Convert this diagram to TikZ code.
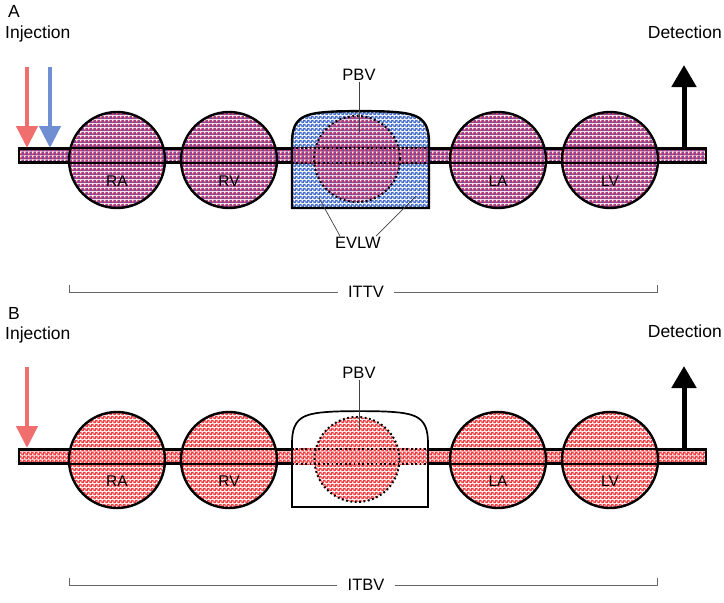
\documentclass[tikz,border=0pt]{standalone}
\usepackage{fontspec}
\setmainfont{Liberation Sans}
\usetikzlibrary{positioning,arrows.meta,patterns}
\definecolor{redbase}{RGB}{220,52,84}
\definecolor{redfill}{RGB}{238,62,66}
\definecolor{bluefill}{RGB}{72,112,202}
\definecolor{bluedot}{RGB}{80,85,200}
\definecolor{injred}{RGB}{240,110,110}
\definecolor{injblue}{RGB}{112,142,210}
% speckled textures
\pgfdeclarepatterninherentlycolored{mauvespeck}{\pgfpointorigin}{\pgfqpoint{4pt}{4pt}}{\pgfqpoint{4pt}{4pt}}{
  \pgfsetfillcolor{redbase}\pgfpathrectangle{\pgfpointorigin}{\pgfqpoint{4pt}{4pt}}\pgfusepath{fill}
  \pgfsetfillcolor{bluedot}\pgfpathrectangle{\pgfqpoint{2pt}{0pt}}{\pgfqpoint{2pt}{2pt}}
  \pgfpathrectangle{\pgfqpoint{2.8pt}{2.8pt}}{\pgfqpoint{1.1pt}{1.1pt}}\pgfusepath{fill}
  \pgfsetfillcolor{white}\pgfpathrectangle{\pgfqpoint{0pt}{2pt}}{\pgfqpoint{1.7pt}{1.7pt}}\pgfusepath{fill}}
\pgfdeclarepatterninherentlycolored{redspeck}{\pgfpointorigin}{\pgfqpoint{4pt}{4pt}}{\pgfqpoint{4pt}{4pt}}{
  \pgfsetfillcolor{redfill}\pgfpathrectangle{\pgfpointorigin}{\pgfqpoint{4pt}{4pt}}\pgfusepath{fill}
  \pgfsetfillcolor{white}\pgfpathrectangle{\pgfpointorigin}{\pgfqpoint{1.6pt}{1.6pt}}\pgfusepath{fill}
  \pgfpathrectangle{\pgfqpoint{2pt}{2pt}}{\pgfqpoint{1.6pt}{1.6pt}}\pgfusepath{fill}}
\pgfdeclarepatterninherentlycolored{bluespeck}{\pgfpointorigin}{\pgfqpoint{4pt}{4pt}}{\pgfqpoint{4pt}{4pt}}{
  \pgfsetfillcolor{bluefill}\pgfpathrectangle{\pgfpointorigin}{\pgfqpoint{4pt}{4pt}}\pgfusepath{fill}
  \pgfsetfillcolor{white}\pgfpathrectangle{\pgfpointorigin}{\pgfqpoint{1.6pt}{1.6pt}}\pgfusepath{fill}
  \pgfpathrectangle{\pgfqpoint{2pt}{2pt}}{\pgfqpoint{1.6pt}{1.6pt}}\pgfusepath{fill}}
\tikzset{
  cham/.style={circle, draw, line width=2.4pt, minimum size=96pt, inner sep=0pt, pattern=#1},
  tube/.style={rectangle, draw, line width=2.2pt, minimum width=687pt, minimum height=13pt, inner sep=0pt, pattern=#1},
  tubeline/.style={line width=2.2pt},
  dotline/.style={line width=2pt, dash pattern=on 1.8pt off 2.6pt},
  lbl/.style={font=\fontsize{15.5}{17}\selectfont, inner sep=1pt},
  head/.style={font=\fontsize{17.5}{19}\selectfont, inner sep=0pt},
  inj/.style={line width=4.5pt, draw=#1, -{Triangle[width=21pt,length=22pt]}},
  detect/.style={line width=5pt, -{Triangle[width=24pt,length=22pt]}},
  pointer/.style={line width=0.7pt, draw=black!75},
  brk/.style={line width=0.9pt, draw=black!60},
}
\begin{document}
\begin{tikzpicture}[x=1pt,y=-1pt]
\useasboundingbox (0,0) rectangle (724,603);
% ---------- panel A ----------
\node[head, anchor=west] (capA) at (8,11) {A};
\node[head, anchor=west] (injlblA) at (5,34) {Injection};
\node[head, anchor=east] (detlblA) at (722,32) {Detection};
\node[tube=mauvespeck] (tubeA) at (362.5,155.5) {};
\node[cham=mauvespeck] (raA) at (117,160) {};
\node[cham=mauvespeck] (rvA) at (229,160) {};
\node[cham=mauvespeck] (laA) at (498,160) {};
\node[cham=mauvespeck] (lvA) at (610,160) {};
\draw[tubeline] (tubeA.north west) -- (tubeA.north east);
\draw[tubeline] (tubeA.south west) -- (tubeA.south east);
% pulmonary box
\coordinate (boxAsw) at (292,208);
\coordinate (boxAse) at (429,208);
\path[pattern=bluespeck] (boxAsw) -- (292,143) .. controls (292,116) and (305,113) .. (335,111.5)
  .. controls (350,111) and (371,111) .. (386,111.5) .. controls (416,113) and (429,116) .. (429,143)
  -- (boxAse) -- cycle;
\node[circle, minimum size=86pt, inner sep=0pt, pattern=mauvespeck] (pbvA) at (357,159) {};
\path[pattern=mauvespeck] (tubeA.north -| boxAsw) rectangle (tubeA.south -| boxAse);
\draw[dotline] (tubeA.north -| boxAsw) -- (tubeA.north -| boxAse);
\draw[dotline] (tubeA.south -| boxAsw) -- (tubeA.south -| boxAse);
\draw[dotline] (pbvA) circle[radius=43pt];
\draw[line width=2.4pt] (boxAsw) -- (292,143) .. controls (292,116) and (305,113) .. (335,111.5)
  .. controls (350,111) and (371,111) .. (386,111.5) .. controls (416,113) and (429,116) .. (429,143)
  -- (boxAse) -- cycle;
\node[lbl] (ralblA) at (117,181) {RA};
\node[lbl] (rvlblA) at (229,181) {RV};
\node[lbl] (lalblA) at (498,181) {LA};
\node[lbl] (lvlblA) at (610,181) {LV};
\node[lbl, font=\fontsize{16.5}{18}\selectfont] (pbvlblA) at (359,75) {PBV};
\coordinate (pbvptA) at (359,132);
\draw[pointer] (pbvlblA.south) -- (pbvptA);
\node[lbl, font=\fontsize{16.5}{18}\selectfont] (evlw) at (358,243) {EVLW};
\coordinate (evlwL) at (319,198);
\coordinate (evlwR) at (416,196);
\draw[pointer] ([xshift=6pt]evlw.north west) -- (evlwL);
\draw[pointer] ([xshift=-6pt]evlw.north east) -- (evlwR);
% injection / detection
\coordinate (injRtopA) at (27,67);
\coordinate (injRtipA) at (27,148);
\coordinate (injBtopA) at (50,67);
\coordinate (injBtipA) at (50,148);
\draw[inj=injred] (injRtopA) -- (injRtipA);
\draw[inj=injblue] (injBtopA) -- (injBtipA);
\coordinate (detbaseA) at (684,149);
\coordinate (dettipA) at (684,65);
\draw[detect] (detbaseA) -- (dettipA);
% ITTV
\node[lbl, font=\fontsize{16.5}{18}\selectfont, inner xsep=10pt] (ittv) at (366,292) {ITTV};
\coordinate (ittvL) at (69,285);
\coordinate (ittvR) at (657,285);
\draw[brk] (ittvL) -- (ittvL |- ittv) -- (ittv.west);
\draw[brk] (ittv.east) -- (ittvR |- ittv) -- (ittvR);
% ---------- panel B ----------
\node[head, anchor=west] (capB) at (8,313) {B};
\node[head, anchor=west] (injlblB) at (5,335) {Injection};
\node[head, anchor=east] (detlblB) at (722,331) {Detection};
\node[tube=redspeck] (tubeB) at (362.5,456.5) {};
\node[cham=redspeck] (raB) at (117,460) {};
\node[cham=redspeck] (rvB) at (229,460) {};
\node[cham=redspeck] (laB) at (498,460) {};
\node[cham=redspeck] (lvB) at (610,460) {};
\draw[tubeline] (tubeB.north west) -- (tubeB.north east);
\draw[tubeline] (tubeB.south west) -- (tubeB.south east);
\coordinate (boxBsw) at (292,507);
\coordinate (boxBse) at (428,507);
\fill[white] (boxBsw) -- (292,443) .. controls (292,416) and (305,413) .. (335,411.5)
  .. controls (350,411) and (370,411) .. (385,411.5) .. controls (415,413) and (428,416) .. (428,443)
  -- (boxBse) -- cycle;
\node[circle, minimum size=85pt, inner sep=0pt, pattern=redspeck] (pbvB) at (357,459.5) {};
\path[pattern=redspeck] (tubeB.north -| boxBsw) rectangle (tubeB.south -| boxBse);
\draw[dotline] (tubeB.north -| boxBsw) -- (tubeB.north -| boxBse);
\draw[dotline] (tubeB.south -| boxBsw) -- (tubeB.south -| boxBse);
\draw[dotline] (pbvB) circle[radius=42.5pt];
\draw[line width=1.7pt] (boxBsw) -- (292,443) .. controls (292,416) and (305,413) .. (335,411.5)
  .. controls (350,411) and (370,411) .. (385,411.5) .. controls (415,413) and (428,416) .. (428,443)
  -- (boxBse) -- cycle;
\node[lbl] (ralblB) at (117,481) {RA};
\node[lbl] (rvlblB) at (229,481) {RV};
\node[lbl] (lalblB) at (498,481) {LA};
\node[lbl] (lvlblB) at (610,481) {LV};
\node[lbl, font=\fontsize{16.5}{18}\selectfont] (pbvlblB) at (359,373) {PBV};
\coordinate (pbvptB) at (359,430);
\draw[pointer] (pbvlblB.south) -- (pbvptB);
\coordinate (injRtopB) at (27,367);
\coordinate (injRtipB) at (27,448);
\draw[inj=injred] (injRtopB) -- (injRtipB);
\coordinate (detbaseB) at (684,450);
\coordinate (dettipB) at (684,366);
\draw[detect] (detbaseB) -- (dettipB);
% ITBV
\node[lbl, font=\fontsize{16.5}{18}\selectfont, inner xsep=10pt] (itbv) at (366,585) {ITBV};
\coordinate (itbvL) at (69,578);
\coordinate (itbvR) at (657,578);
\draw[brk] (itbvL) -- (itbvL |- itbv) -- (itbv.west);
\draw[brk] (itbv.east) -- (itbvR |- itbv) -- (itbvR);
\end{tikzpicture}
\end{document}
